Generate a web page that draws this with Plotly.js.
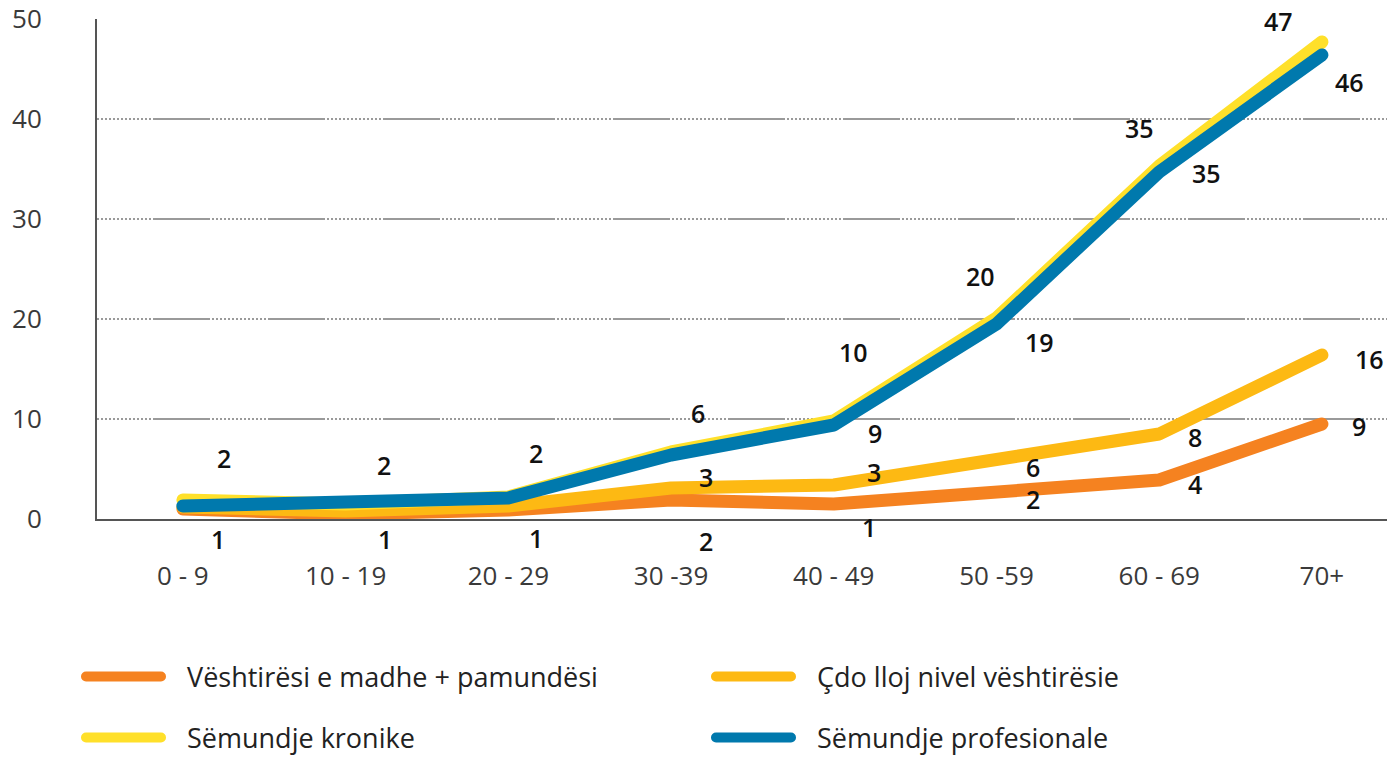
<!DOCTYPE html>
<html>
<head>
<meta charset="utf-8">
<script src="https://cdn.plot.ly/plotly-3.0.1.min.js"></script>
<style>
  html, body { margin: 0; padding: 0; background: #ffffff; }
  #chart { width: 1387px; height: 757px; }
  #chart path.js-line { stroke-linecap: round !important; stroke-linejoin: round !important; }
</style>
</head>
<body>
<div id="chart"></div>
<script>
// ---- data ----
const categories = ["0 - 9", "10 - 19", "20 - 29", "30 -39", "40 - 49", "50 -59", "60 - 69", "70+"];

const seriesNames = [
  "Vështirësi e madhe + pamundësi",
  "Çdo lloj nivel vështirësie",
  "Sëmundje kronike",
  "Sëmundje profesionale"
];

const vastirMadhe   = [1.0, 0.5, 0.9, 1.9, 1.5, 2.6, 3.9, 9.5];
const cdoLloj       = [1.2, 0.8, 1.3, 3.1, 3.4, 5.8, 8.5, 16.4];
const kronike       = [1.9, 1.5, 2.2, 6.7, 9.8, 20.1, 35.3, 47.7];
const profesionale  = [1.3, 1.6, 2.1, 6.4, 9.4, 19.5, 34.7, 46.4];

// printed value labels (null = no label)
const labelsMadhe        = ["1", "1", "1", "2", "1", "2", "4", "9"];
const labelsCdoLloj      = [null, null, null, "3", "3", "6", "8", "16"];
const labelsKronike      = ["2", "2", "2", "6", "10", "20", "35", "47"];
const labelsProfesionale = [null, null, null, null, "9", "19", "35", "46"];

const yTicks = [0, 10, 20, 30, 40, 50];

// ---- style ----
const colors = ["#F58220", "#FDB913", "#FFE02A", "#0079AD"];
const seriesValues = [vastirMadhe, cdoLloj, kronike, profesionale];
const seriesLabels = [labelsMadhe, labelsCdoLloj, labelsKronike, labelsProfesionale];
const legendIds = ["legend", "legend2", "legend3", "legend4"];
// legend placement in container fractions: [x, y]
const legendPos = [
  [81 / 1387, 1 - 677 / 757],
  [711 / 1387, 1 - 677 / 757],
  [81 / 1387, 1 - 738 / 757],
  [711 / 1387, 1 - 738 / 757]
];

// label offsets in pixels (x right, y up) relative to each point
const labelOffsets = [
  [[35,-30],[39,-25],[28,-28],[35,-41],[35,-23],[37,-6],[36,-4],[37,-2]],
  [[0,0],[0,0],[0,0],[35,11],[40,13],[37,-6],[36,-3],[48,-4]],
  [[41,42],[38,39],[28,44],[27,39],[20,69],[-16,42],[-20,38],[-43,21]],
  [[0,0],[0,0],[0,0],[0,0],[41,-8],[43,-18],[47,-1],[28,-27]]
];

const traces = seriesValues.map((vals, k) => ({
  type: "scatter",
  mode: "lines",
  x: categories,
  y: vals,
  name: "\u00a0\u00a0\u00a0" + seriesNames[k],
  legend: legendIds[k],
  line: { color: colors[k], width: 13 },
  hoverinfo: "x+y"
}));

const annotations = [];
seriesLabels.forEach((labs, k) => {
  labs.forEach((t, i) => {
    if (t === null) return;
    annotations.push({
      x: categories[i], y: seriesValues[k][i], xref: "x", yref: "y",
      text: t, showarrow: false,
      xshift: labelOffsets[k][i][0], yshift: labelOffsets[k][i][1],
      xanchor: "center", yanchor: "middle",
      font: { family: "Open Sans", size: 25, color: "#111111", weight: 600 }
    });
  });
});

// grid dash: dotted run then solid run
const gridDashParts = [];
for (let i = 0; i < 14; i++) { gridDashParts.push("2", "2"); }
gridDashParts.push("57", "2");
const gridDash = gridDashParts.join(",");

const layout = {
  width: 1387, height: 757,
  margin: { l: 97, r: 0, t: 19, b: 238 },
  paper_bgcolor: "#ffffff", plot_bgcolor: "#ffffff",
  font: { family: "Open Sans", color: "#3a3a3a" },
  showlegend: true,
  xaxis: {
    type: "category",
    range: [-0.528, 7.4],
    showgrid: false,
    showline: true, linecolor: "#555555", linewidth: 2,
    ticks: "", ticklabelstandoff: 33,
    tickfont: { family: "Open Sans", size: 26, color: "#3a3a3a" },
    zeroline: false, fixedrange: true
  },
  yaxis: {
    range: [0, 50],
    tickvals: yTicks,
    ticktext: yTicks.map(String),
    showgrid: true, gridcolor: "#9a9a9a", gridwidth: 1.5, griddash: gridDash,
    showline: true, linecolor: "#555555", linewidth: 2,
    ticks: "", ticklabelstandoff: 48,
    tickfont: { family: "Open Sans", size: 26, color: "#3a3a3a" },
    zeroline: false, fixedrange: true
  },
  annotations: annotations
};

legendIds.forEach((id, k) => {
  layout[id] = {
    orientation: "h",
    xref: "container", yref: "container",
    x: legendPos[k][0], xanchor: "left",
    y: legendPos[k][1], yanchor: "middle",
    itemwidth: 75,
    font: { family: "Open Sans", size: 27, color: "#222222" },
    bgcolor: "rgba(0,0,0,0)"
  };
});

Plotly.newPlot("chart", traces, layout, { displayModeBar: false, staticPlot: true });
</script>
</body>
</html>
